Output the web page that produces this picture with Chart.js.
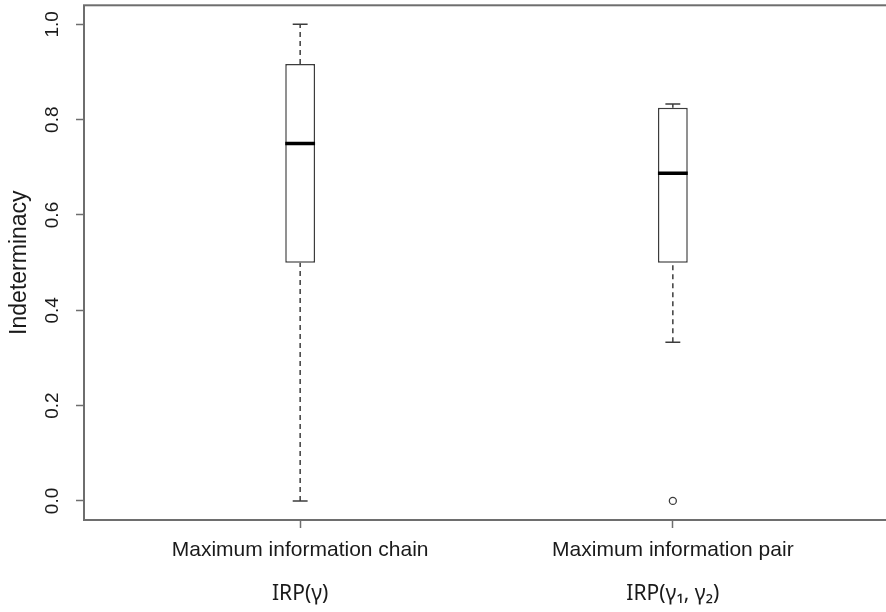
<!DOCTYPE html>
<html>
<head>
<meta charset="utf-8">
<script src="https://cdn.jsdelivr.net/npm/chart.js@4/dist/chart.umd.min.js"></script>
<style>
  html, body { margin: 0; padding: 0; background: #fff; overflow: hidden; }
  #wrap { position: relative; width: 900px; height: 612px; }
</style>
</head>
<body>
<div id="wrap"><canvas id="boxChart"></canvas></div>
<script>
// ---- data ----
const categories = ['Maximum information chain', 'Maximum information pair'];
const subLabels = ['IRP(γ)', 'IRP(γ₁, γ₂)'];
const positions = [1, 2];
const whiskerLow = [0.0, 0.333];
const q1 = [0.5, 0.5];
const median = [0.75, 0.6875];
const q3 = [0.917, 0.825];
const whiskerHigh = [1.0, 0.833];
const outlierGroup = [2];
const outlierValue = [0.0];
const yTicks = [0, 0.2, 0.4, 0.6, 0.8, 1.0];

const boxWidth = 0.08;   // in x units, like boxwex
const stapleWidth = 0.04;

const axisGray = '#6e6e6e';
const lineGray = '#3c3c3c';

// segments built from the arrays, broken by null points
function segs(fn) {
    const out = [];
    positions.forEach((p, i) => {
        fn(p, i).forEach(s => {
            out.push(s[0], s[1], { x: p, y: null });
        });
    });
    return out;
}

const whiskerData = segs((p, i) => [
    [{ x: p, y: q3[i] }, { x: p, y: whiskerHigh[i] }],
    [{ x: p, y: whiskerLow[i] }, { x: p, y: q1[i] }]
]);
const stapleData = segs((p, i) => [
    [{ x: p - stapleWidth / 2, y: whiskerHigh[i] }, { x: p + stapleWidth / 2, y: whiskerHigh[i] }],
    [{ x: p - stapleWidth / 2, y: whiskerLow[i] }, { x: p + stapleWidth / 2, y: whiskerLow[i] }]
]);
const medianData = segs((p, i) => [
    [{ x: p - boxWidth / 2, y: median[i] }, { x: p + boxWidth / 2, y: median[i] }]
]);

const framePlugin = {
    id: 'frame',
    afterDraw(chart) {
        const a = chart.chartArea;
        const ctx = chart.ctx;
        ctx.save();
        ctx.strokeStyle = axisGray;
        ctx.lineWidth = 2;
        ctx.strokeRect(a.left, a.top, a.right - a.left, a.bottom - a.top);
        ctx.restore();
    }
};

const lineBase = { type: 'line', pointRadius: 0, spanGaps: false, fill: false, tension: 0 };

new Chart(document.getElementById('boxChart'), {
    type: 'bar',
    data: {
        datasets: [
            {
                ...lineBase,
                order: 0,
                data: medianData,
                borderColor: '#000',
                borderWidth: 3.5
            },
            {
                type: 'bar',
                order: 3,
                data: positions.map((p, i) => ({ x: p, y: [q1[i], q3[i]] })),
                backgroundColor: '#fff',
                borderColor: lineGray,
                borderWidth: 1.5,
                borderSkipped: false,
                categoryPercentage: 1,
                barPercentage: boxWidth
            },
            {
                ...lineBase,
                order: 1,
                data: whiskerData,
                borderColor: lineGray,
                borderWidth: 1.5,
                borderDash: [5, 4]
            },
            {
                ...lineBase,
                order: 1,
                data: stapleData,
                borderColor: lineGray,
                borderWidth: 1.5
            },
            {
                type: 'scatter',
                order: 1,
                data: outlierGroup.map((g, i) => ({ x: g, y: outlierValue[i] })),
                pointStyle: 'circle',
                pointRadius: 3.5,
                borderWidth: 1.3,
                borderColor: lineGray,
                backgroundColor: '#fff'
            }
        ]
    },
    options: {
        responsive: true,
        maintainAspectRatio: false,
        animation: false,
        layout: { padding: { top: 5, right: 11, left: 0, bottom: 0 } },
        plugins: {
            legend: { display: false },
            tooltip: { enabled: false }
        },
        scales: {
            x: {
                type: 'linear',
                position: 'bottom',
                weight: 0,
                min: 0.42,
                max: 2.58,
                offset: false,
                afterBuildTicks: s => { s.ticks = positions.map(v => ({ value: v })); },
                afterFit: s => { s.height = 48; s.paddingLeft = 0; s.paddingRight = 0; },
                border: { display: false },
                grid: {
                    offset: false,
                    drawOnChartArea: false,
                    drawTicks: true,
                    tickLength: 8,
                    tickColor: axisGray,
                    tickWidth: 1.5
                },
                ticks: {
                    autoSkip: false,
                    maxRotation: 0,
                    padding: 10,
                    color: '#1a1a1a',
                    font: { family: '"Liberation Sans", Arial, sans-serif', size: 21 },
                    callback: v => categories[positions.indexOf(v)]
                }
            },
            x2: {
                type: 'linear',
                position: 'bottom',
                axis: 'x',
                weight: 1,
                min: 0.42,
                max: 2.58,
                offset: false,
                afterBuildTicks: s => { s.ticks = positions.map(v => ({ value: v })); },
                afterFit: s => { s.height = 44; s.paddingLeft = 0; s.paddingRight = 0; },
                border: { display: false },
                grid: { display: false, drawTicks: false },
                ticks: {
                    autoSkip: false,
                    maxRotation: 0,
                    padding: 13,
                    color: '#1a1a1a',
                    font: { family: '"Noto Sans", sans-serif', size: 21 },
                    callback: v => subLabels[positions.indexOf(v)]
                }
            },
            y: {
                type: 'linear',
                min: -0.04,
                max: 1.04,
                afterBuildTicks: s => { s.ticks = yTicks.map(v => ({ value: v })); },
                afterFit: s => { s.width = 84; s.paddingTop = 0; s.paddingBottom = 0; },
                border: { display: false },
                grid: {
                    drawOnChartArea: false,
                    drawTicks: true,
                    tickLength: 8,
                    tickColor: axisGray,
                    tickWidth: 1.5
                },
                ticks: {
                    minRotation: 90,
                    maxRotation: 90,
                    crossAlign: 'center',
                    padding: 10,
                    color: '#1a1a1a',
                    font: { family: '"Liberation Sans", Arial, sans-serif', size: 19 },
                    callback: v => v.toFixed(1)
                },
                title: {
                    display: true,
                    text: 'Indeterminacy',
                    color: '#1a1a1a',
                    padding: { top: 6, bottom: 0 },
                    font: { family: '"Liberation Sans", Arial, sans-serif', size: 23 }
                }
            }
        }
    },
    plugins: [framePlugin]
});
</script>
</body>
</html>
